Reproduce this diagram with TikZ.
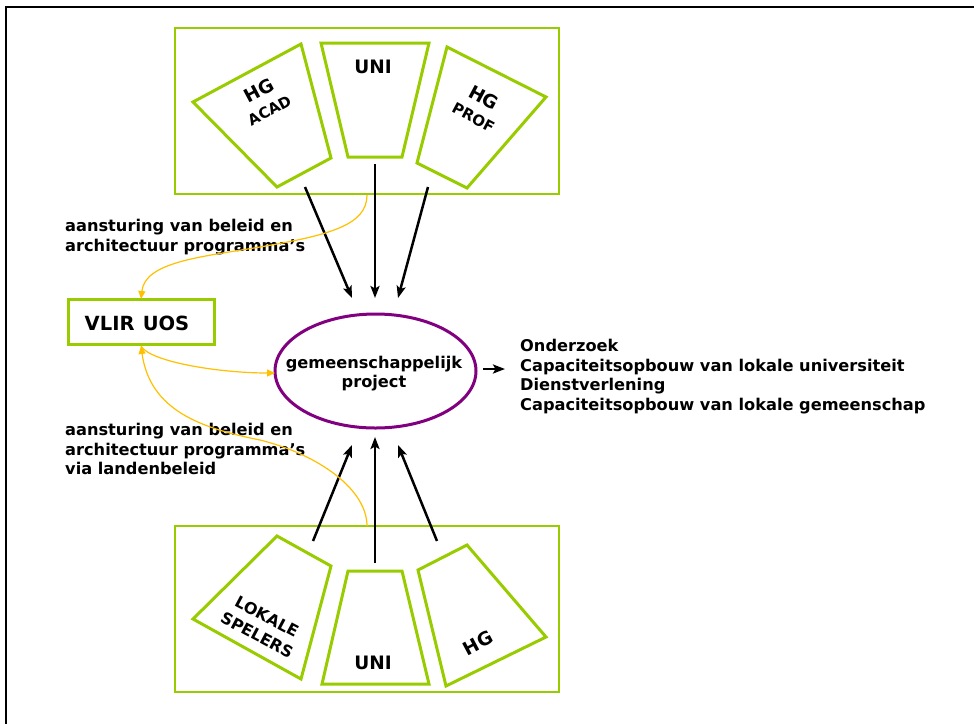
\documentclass[tikz,border=0pt]{standalone}
\usepackage{fontspec}
\setmainfont{DejaVu Sans}
\usetikzlibrary{arrows.meta,shapes.geometric}
\definecolor{lgreen}{HTML}{99CC00}
\definecolor{purp}{HTML}{800080}
\definecolor{ylw}{HTML}{FFC000}
\newcommand\fsz[2]{\fontsize{#1}{#2}\selectfont}
\begin{document}
\begin{tikzpicture}[x=1pt,y=-1pt,
 quad/.style={draw=lgreen,line width=3pt,line join=miter},
 grp/.style={draw=lgreen,line width=1.3pt},
 txt/.style={font=\bfseries\fsz{16.2}{19.5},align=left,inner sep=0pt,anchor=north west},
 qtxt/.style={font=\bfseries\fsz{18.5}{20},align=center,inner sep=0pt},
 flow/.style={draw=black,line width=2.5pt,-{Stealth[length=12pt,width=9pt,inset=2.5pt]}},
 ylink/.style={draw=ylw,line width=1.2pt,-{Triangle[length=8pt,width=7pt]}},
]
\useasboundingbox (0,0) rectangle (974,724);
% frame
\draw[line width=2pt] (5,7) -- (974,7);
\draw[line width=2pt] (6,6) -- (6,724);
% group rectangles
\draw[grp] (175,28) rectangle (559,194);
\draw[grp] (175,526) rectangle (559,692);
% top quads
\draw[quad] (193,102) -- (301,44) -- (331,158) -- (277,187) -- cycle;
\draw[quad] (321,43) -- (429,43) -- (402,157) -- (348,157) -- cycle;
\draw[quad] (447,47) -- (546,97) -- (467,188) -- (417,163) -- cycle;
% bottom quads
\draw[quad] (193,619) -- (277,536) -- (331,566) -- (301,679) -- cycle;
\draw[quad] (348,571) -- (402,571) -- (429,684) -- (322,684) -- cycle;
\draw[quad] (418,570) -- (467,545) -- (546,637) -- (446,686) -- cycle;
% quad texts
\node[qtxt,rotate=28] (hgacad) at (264,100) {HG\\[1pt]{\fsz{15}{20}ACAD}};
\node[qtxt] (unitop) at (373,67) {UNI};
\node[qtxt,rotate=-28] (hgprof) at (479,107) {HG\\[1pt]{\fsz{15}{20}PROF}};
\node[qtxt,rotate=-28,font=\bfseries\fsz{16}{21}] (lokale) at (262,626) {LOKALE\\SPELERS};
\node[qtxt] (unibot) at (373,663) {UNI};
\node[qtxt,rotate=28] (hgbot) at (478,643) {HG};
% VLIR UOS
\node[draw=lgreen,line width=3pt,minimum width=146pt,minimum height=45pt,inner sep=0pt] (vlir) at (141,321.5) {};
\node[font=\bfseries\fsz{19.5}{21},inner sep=0pt] (vlirtxt) at (137,323) {VLIR\kern1.5pt\ UOS};
% project ellipse
\node[ellipse,draw=purp,line width=3pt,minimum width=201pt,minimum height=114pt,inner sep=0pt] (proj) at (375.5,371) {};
\node[font=\bfseries\fsz{16.2}{19},align=center,inner sep=0pt] (projtxt) at (374,374) {gemeenschappelijk\\project};
% outputs
\node[txt] (out) at (520,339) {Onderzoek\\Capaciteitsopbouw van lokale universiteit\\Dienstverlening\\Capaciteitsopbouw van lokale gemeenschap};
% labels
\node[txt] (lab1) at (65,219) {aansturing van beleid en\\architectuur programma’s};
\node[txt] (lab2) at (65,423) {aansturing van beleid en\\architectuur programma’s\\via landenbeleid};
% arrow coordinates
\coordinate (t1s) at (305,187); \coordinate (t1e) at (352,298);
\coordinate (t2s) at (375,164); \coordinate (t2e) at (375,298);
\coordinate (t3s) at (428,187); \coordinate (t3e) at (398,298);
\coordinate (b1s) at (313,541); \coordinate (b1e) at (352,445);
\coordinate (b2s) at (375,563); \coordinate (b2e) at (375,437);
\coordinate (b3s) at (437,541); \coordinate (b3e) at (398,445);
\coordinate (os) at (483,369); \coordinate (oe) at (505,369);
\draw[flow] (t1s) -- (t1e);
\draw[flow] (t2s) -- (t2e);
\draw[flow] (t3s) -- (t3e);
\draw[flow] (b1s) -- (b1e);
\draw[flow] (b2s) -- (b2e);
\draw[flow] (b3s) -- (b3e);
\draw[flow] (os) -- (oe);
% yellow links
\coordinate (ytop) at (367,195);
\coordinate (ybot) at (367,526);
\coordinate (vn) at (141,299);
\coordinate (vs) at (141,346);
\coordinate (pw) at (275,373);
\draw[ylink] (ytop) .. controls (367,225) and (330,235) .. (260,247) .. controls (200,257) and (145,262) .. (vn);
\draw[ylink] (vs) .. controls (150,362) and (220,373) .. (pw);
\draw[ylink] (ybot) .. controls (367,490) and (320,455) .. (260,440) .. controls (200,428) and (150,410) .. (vs);
\end{tikzpicture}
\end{document}
